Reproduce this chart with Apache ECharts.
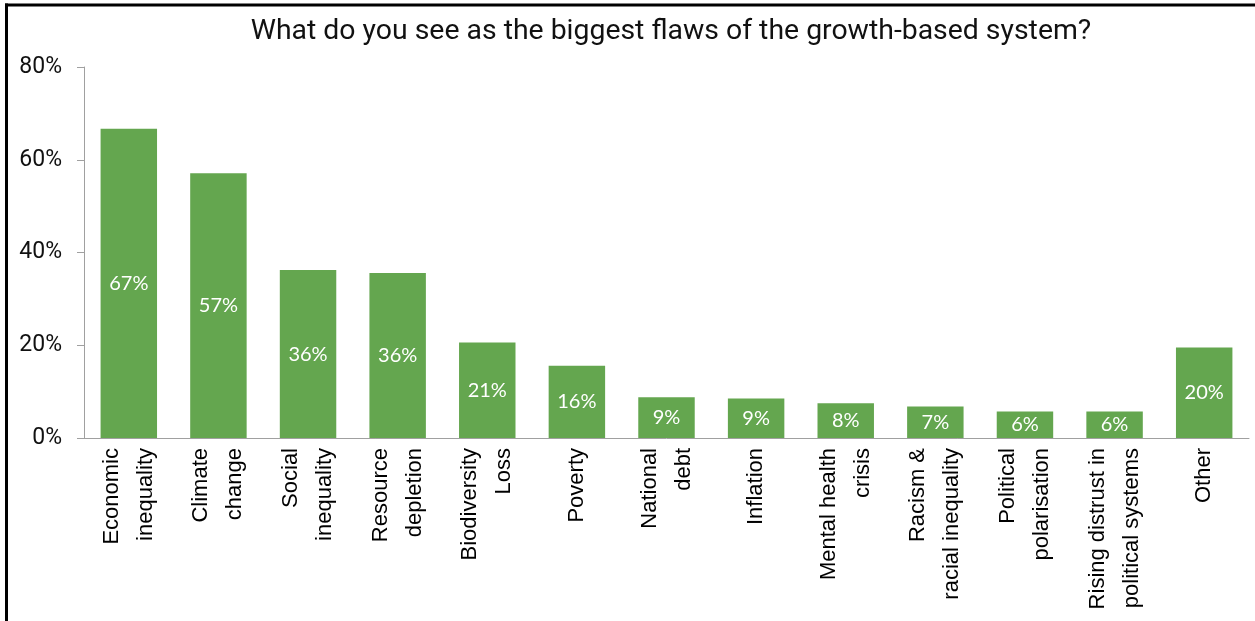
<!DOCTYPE html>
<html>
<head>
<meta charset="utf-8">
<script src="https://cdn.jsdelivr.net/npm/echarts@6/dist/echarts.min.js"></script>
<style>
  html, body { margin: 0; padding: 0; background: #fff; overflow: hidden; }
  #chart { width: 1255px; height: 621px; }
</style>
</head>
<body>
<div id="chart"></div>
<script>
// Survey answers: share of respondents naming each flaw (percent)
const categories = [
  'Economic\ninequality',
  'Climate\nchange',
  'Social\ninequality',
  'Resource\ndepletion',
  'Biodiversity\nLoss',
  'Poverty',
  'National\ndebt',
  'Inflation',
  'Mental health\ncrisis',
  'Racism &\nracial inequality',
  'Political\npolarisation',
  'Rising distrust in\npolitical systems',
  'Other'
];
const shares = [66.7, 57.1, 36.2, 35.6, 20.6, 15.6, 8.8, 8.5, 7.5, 6.8, 5.7, 5.7, 19.5];
const yTicks = { min: 0, max: 80, step: 20 };
const titleText = 'What do you see as the biggest flaws of the growth-based system?';

const chart = echarts.init(document.getElementById('chart'), null, { renderer: 'canvas' });

chart.setOption({
  animation: false,
  backgroundColor: '#ffffff',
  title: {
    text: titleText,
    left: 666,
    textAlign: 'center',
    top: 13,
    textStyle: {
      fontFamily: 'Roboto',
      fontSize: 28.4,
      fontWeight: 'normal',
      color: '#111111'
    }
  },
  grid: { left: 84, right: 6, top: 67, bottom: 183, containLabel: false },
  xAxis: {
    type: 'category',
    data: categories,
    axisLine: { show: true, lineStyle: { color: '#a0a0a0', width: 1 } },
    axisTick: { show: false },
    axisLabel: {
      interval: 0,
      rotate: 90,
      margin: 10,
      fontFamily: 'Liberation Sans',
      fontSize: 22,
      lineHeight: 34,
      color: '#000000'
    }
  },
  yAxis: {
    type: 'value',
    min: yTicks.min,
    max: yTicks.max,
    interval: yTicks.step,
    splitLine: { show: false },
    axisLine: { show: true, lineStyle: { color: '#a0a0a0', width: 1 } },
    axisTick: { show: true, length: 7, lineStyle: { color: '#a0a0a0' } },
    axisLabel: {
      formatter: '{value}%',
      margin: 22,
      fontFamily: 'Roboto',
      fontSize: 23,
      color: '#111111'
    }
  },
  series: [{
    type: 'bar',
    data: shares,
    barCategoryGap: '37%',
    itemStyle: { color: '#64a64f' },
    label: {
      show: true,
      position: 'inside',
      formatter: p => Math.round(p.value) + '%',
      fontFamily: 'Lato',
      fontSize: 20,
      color: '#ffffff'
    }
  }],
  graphic: [
    // frame edges along the top and left of the canvas
    {
      type: 'line',
      shape: { x1: 5, y1: 5, x2: 1255, y2: 5 },
      style: { stroke: '#000000', lineWidth: 3 },
      silent: true
    },
    {
      type: 'line',
      shape: { x1: 6.5, y1: 3.5, x2: 6.5, y2: 621 },
      style: { stroke: '#000000', lineWidth: 3 },
      silent: true
    }
  ]
});
</script>
</body>
</html>
